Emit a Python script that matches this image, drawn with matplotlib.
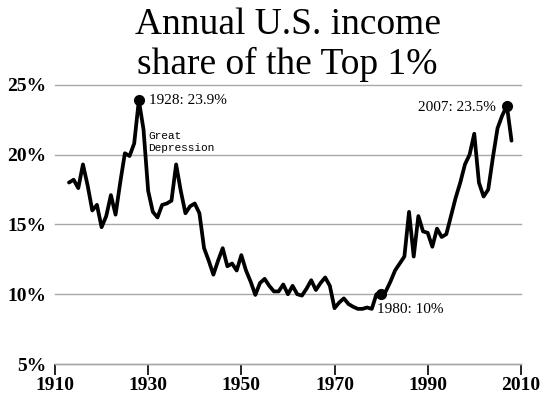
import numpy as np
import matplotlib
matplotlib.use('Agg')
import matplotlib.pyplot as plt

# top 1% income share
years = np.arange(1913, 2009)
share = [
    18.0, 18.2, 17.6, 19.3, 17.8, 16.0, 16.4, 14.8, 15.6, 17.1,   # 1913-1922
    15.7, 18.0, 20.1, 19.9, 20.8, 23.9, 21.8, 17.4, 15.9, 15.5,   # 1923-1932
    16.4, 16.5, 16.7, 19.3, 17.4, 15.8, 16.3, 16.5, 15.8, 13.3,   # 1933-1942
    12.4, 11.4, 12.4, 13.3, 12.0, 12.2, 11.7, 12.8, 11.7, 10.9,   # 1943-1952
    9.95, 10.8, 11.1, 10.6, 10.2, 10.2, 10.7, 10.0, 10.6, 10.0,   # 1953-1962
    9.9, 10.4, 11.0, 10.3, 10.8, 11.2, 10.6, 9.0, 9.4, 9.7,       # 1963-1972
    9.3, 9.1, 8.95, 8.95, 9.05, 8.95, 10.0, 10.0, 10.2, 10.9,     # 1973-1982
    11.7, 12.2, 12.7, 15.9, 12.7, 15.6, 14.5, 14.4, 13.4, 14.7,   # 1983-1992
    14.1, 14.3, 15.6, 16.9, 18.0, 19.3, 20.0, 21.5, 18.0, 17.0,   # 1993-2002
    17.5, 19.8, 21.9, 22.8, 23.5, 21.0,                           # 2003-2008
]
highlight_years = [1928, 1980, 2007]
highlight_labels = ['1928: 23.9%', '1980: 10%', '2007: 23.5%']
x_ticks = [1910, 1930, 1950, 1970, 1990, 2010]
y_ticks = [5, 10, 15, 20, 25]

serif = ['Liberation Serif', 'DejaVu Serif']

fig = plt.figure(figsize=(5.5, 4.04), dpi=100)
ax = fig.add_axes([0.1, 0.099, 0.847, 0.691])

ax.plot(years, share, color='black', lw=2.7, solid_joinstyle='round',
        solid_capstyle='round', zorder=3)

share_by_year = dict(zip(years.tolist(), share))
hl_vals = [share_by_year[y] for y in highlight_years]
ax.plot(highlight_years, hl_vals, 'o', color='black', ms=7, zorder=4, clip_on=False)

txt = dict(fontsize=11, family=serif, color='black')
ax.annotate(highlight_labels[0], (highlight_years[0], hl_vals[0]), xytext=(7, 0),
            textcoords='offset points', ha='left', va='center', **txt)
ax.annotate(highlight_labels[1], (highlight_years[1], hl_vals[1]), xytext=(-3, -11),
            textcoords='offset points', ha='left', va='center', **txt)
ax.annotate(highlight_labels[2], (highlight_years[2], hl_vals[2]), xytext=(-8, -1),
            textcoords='offset points', ha='right', va='center', **txt)
ax.annotate('Great\nDepression', (highlight_years[0], 20.1), xytext=(7, 0),
            textcoords='offset points', ha='left', va='bottom',
            fontsize=8, family=['Liberation Mono', 'DejaVu Sans Mono'], linespacing=1.3)

ax.set_xlim(1910, 2010)
ax.set_ylim(5, 25)
ax.set_xticks(x_ticks)
ax.set_xticklabels([str(x) for x in x_ticks])
ax.set_yticks(y_ticks)
ax.set_yticklabels(['%d%%' % y for y in y_ticks])

for lab in ax.get_xticklabels() + ax.get_yticklabels():
    lab.set_family(serif)
    lab.set_fontweight('bold')
    lab.set_fontsize(14)

ax.tick_params(axis='x', direction='out', length=8, width=1.2, color='black', pad=1)
ax.tick_params(axis='y', length=0, pad=6)

ax.yaxis.grid(True, color='#a8a8a8', lw=1.0)
for gl in ax.get_ygridlines():
    gl.set_clip_on(False)
ax.set_axisbelow(True)

for side in ['top', 'right', 'left']:
    ax.spines[side].set_visible(False)
ax.spines['bottom'].set_color('#a8a8a8')
ax.spines['bottom'].set_linewidth(1.0)

fig.text(0.523, 0.982, 'Annual U.S. income\nshare of the Top 1%', ha='center', va='top',
         fontsize=27, family=serif, linespacing=1.2)

fig.savefig('out.png', dpi=100, facecolor='white')
